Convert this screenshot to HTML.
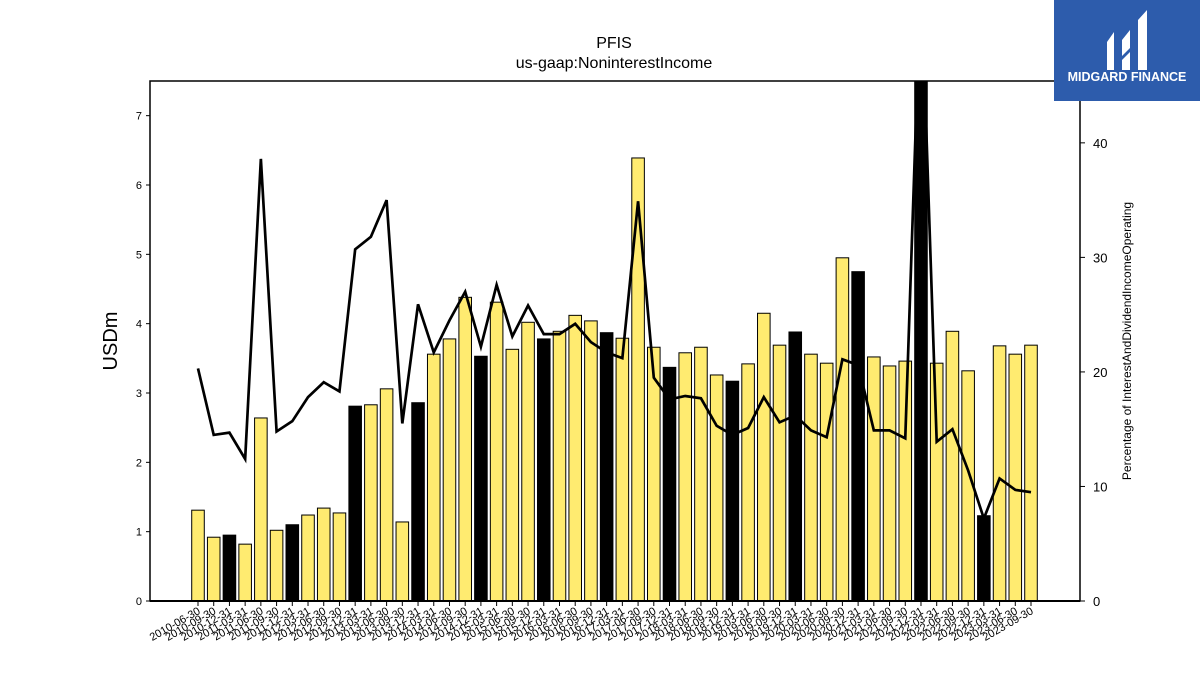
<!DOCTYPE html>
<html><head><meta charset="utf-8"><style>
body{margin:0;background:#fff;width:1200px;height:675px;overflow:hidden;font-family:"Liberation Sans",sans-serif}
</style></head><body>
<svg id="c" width="1200" height="675" style="position:absolute;left:0;top:0">
<text x="614" y="48" text-anchor="middle" font-size="16">PFIS</text>
<text x="614" y="68" text-anchor="middle" font-size="16">us-gaap:NoninterestIncome</text>
<text transform="translate(117,341) rotate(-90)" text-anchor="middle" font-size="20">USDm</text>
<text transform="translate(1131,341) rotate(-90)" text-anchor="middle" font-size="12">Percentage of InterestAndDividendIncomeOperating</text>
<g id="bars"></g>
<g id="line"></g>
<g id="axes"></g>
<rect x="1054" y="0" width="146" height="101" fill="#2d5cac"/>
<g fill="#fff">
<path d="M1107 70 L1107 42 L1114 32 L1114 70 Z"/><path d="M1122 40 L1130 30 L1130 48 L1122 56 Z"/><path d="M1122 60 L1130 52 L1130 70 L1122 70 Z"/><path d="M1138 20 L1147 10 L1147 70 L1138 70 Z"/>
</g>
<text x="1127" y="81" text-anchor="middle" font-size="12.5" font-weight="bold" fill="#fff">MIDGARD FINANCE</text>
</svg>
<script>
const dates=["2010-06-30","2010-09-30","2010-12-31","2011-03-31","2011-06-30","2011-09-30","2011-12-31","2012-03-31","2012-06-30","2012-09-30","2012-12-31","2013-03-31","2013-06-30","2013-09-30","2013-12-31","2014-03-31","2014-06-30","2014-09-30","2014-12-31","2015-03-31","2015-06-30","2015-09-30","2015-12-31","2016-03-31","2016-06-30","2016-09-30","2016-12-31","2017-03-31","2017-06-30","2017-09-30","2017-12-31","2018-03-31","2018-06-30","2018-09-30","2018-12-31","2019-03-31","2019-06-30","2019-09-30","2019-12-31","2020-03-31","2020-06-30","2020-09-30","2020-12-31","2021-03-31","2021-06-30","2021-09-30","2021-12-31","2022-03-31","2022-06-30","2022-09-30","2022-12-31","2023-03-31","2023-06-30","2023-09-30"];
const values=[1.31,0.92,0.95,0.82,2.64,1.02,1.10,1.24,1.34,1.27,2.81,2.83,3.06,1.14,2.86,3.56,3.78,4.38,3.53,4.31,3.63,4.02,3.78,3.89,4.12,4.04,3.87,3.79,6.39,3.66,3.37,3.58,3.66,3.26,3.17,3.42,4.15,3.69,3.88,3.56,3.43,4.95,4.75,3.52,3.39,3.46,9.0,3.43,3.89,3.32,1.23,3.68,3.56,3.69];
const pct=[20.3,14.5,14.7,12.4,38.6,14.8,15.7,17.8,19.1,18.3,30.7,31.8,35.0,15.5,25.9,21.7,24.5,27.0,22.2,27.6,23.1,25.8,23.3,23.3,24.2,22.6,21.7,21.2,34.9,19.5,17.6,17.9,17.7,15.3,14.5,15.1,17.8,15.6,16.2,14.9,14.3,21.1,20.6,14.9,14.9,14.2,55,13.9,15.0,11.4,7.2,10.7,9.7,9.5];
const leftTicks=[0,1,2,3,4,5,6,7];
const rightTicks=[0,10,20,30,40];
const NS="http://www.w3.org/2000/svg";
const X0=150,X1=1080,Y0=601,Y1=81,LMAX=7.5,RMAX=45.4;
const step=(1031-198)/(dates.length-1);
const xs=i=>198+i*step;
const yl=v=>Y0-(v/LMAX)*(Y0-Y1);
const yr=v=>Y0-(v/RMAX)*(Y0-Y1);
function mk(t,a,p){const e=document.createElementNS(NS,t);for(const k in a)e.setAttribute(k,a[k]);p.appendChild(e);return e;}
const svg=document.getElementById('c');
const clip=mk('clipPath',{id:'pc'},svg);mk('rect',{x:X0,y:Y1,width:X1-X0,height:Y0-Y1},clip);
const bars=document.getElementById('bars');bars.setAttribute('clip-path','url(#pc)');
const bw=step*0.8;
values.forEach((v,i)=>{const top=yl(v);
const r=mk('rect',{x:xs(i)-bw/2,y:top,width:bw,height:Y0-top,fill:(i%4===2)?'#000':'#ffeb70',stroke:'#000','stroke-width':1},bars);

});
const lg=document.getElementById('line');lg.setAttribute('clip-path','url(#pc)');
const pl=mk('polyline',{points:pct.map((v,i)=>xs(i)+','+yr(v)).join(' '),fill:'none',stroke:'#000','stroke-width':2.7,'stroke-linejoin':'miter'},lg);


const ax=document.getElementById('axes');
mk('rect',{x:X0,y:Y1,width:X1-X0,height:Y0-Y1,fill:'none',stroke:'#000','stroke-width':1.5},ax);
mk('line',{x1:X0,y1:Y0,x2:X1,y2:Y0,stroke:'#000','stroke-width':2},ax);
leftTicks.forEach(v=>{const y=yl(v);mk('line',{x1:X0-4,y1:y,x2:X0,y2:y,stroke:'#000'},ax);
const t=mk('text',{x:X0-8,y:y+4,'text-anchor':'end','font-size':11},ax);t.textContent=v;

});
rightTicks.forEach(v=>{const y=yr(v);mk('line',{x1:X1,y1:y,x2:X1+5,y2:y,stroke:'#000'},ax);
const t=mk('text',{x:X1+13,y:y+5,'font-size':13},ax);t.textContent=v;

});
dates.forEach((d,i)=>{const x=xs(i);mk('line',{x1:x,y1:Y0,x2:x,y2:Y0+5,stroke:'#000'},ax);
const t=mk('text',{transform:`translate(${x+3},${Y0+12}) rotate(-30)`,'text-anchor':'end','font-size':11},ax);t.textContent=d;

});
</script>
</body></html>
